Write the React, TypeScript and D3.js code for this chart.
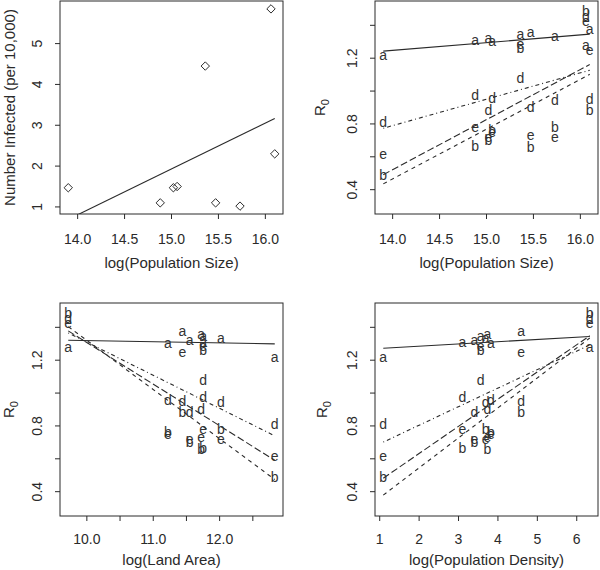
import React from 'react';
import * as d3 from 'd3';

// ---- data ----
const popSize = [13.9, 14.88, 15.02, 15.06, 15.36, 15.47, 15.73, 16.06, 16.1];
const landArea = [12.83, 11.75, 11.55, 11.22, 11.75, 11.72, 12.02, 9.72, 11.44];
const popDensity = [1.09, 3.1, 3.4, 3.82, 3.56, 3.73, 3.69, 6.33, 4.59];
const infected = [1.47, 1.1, 1.47, 1.5, 4.45, 1.1, 1.02, 5.85, 2.3];

const r0A = [1.21, 1.305, 1.315, 1.295, 1.337, 1.35, 1.325, 1.27, 1.367];
const r0B = [0.49, 0.665, 0.7, 0.765, 1.26, 0.66, 0.783, 1.49, 0.885];
const r0D = [0.81, 0.975, 0.883, 0.958, 1.078, 0.905, 0.948, 1.46, 0.95];
const r0E = [0.61, 0.775, 0.715, 0.745, 1.28, 0.726, 0.712, 1.42, 1.24];

const seriesLabels = ['a', 'b', 'd', 'e'];
const seriesValues = [r0A, r0B, r0D, r0E];
const seriesDash = ['', '4,4', '1,3,4,3', '7,3'];

const infectedTicks = [1, 2, 3, 4, 5];
const r0Ticks = [0.4, 0.6, 0.8, 1.0, 1.2, 1.4];
const r0TickLabels = ['0.4', '', '0.8', '', '1.2', ''];
const popTicks = [14.0, 14.5, 15.0, 15.5, 16.0];
const popTickLabels = ['14.0', '14.5', '15.0', '15.5', '16.0'];
const areaTicks = [10.0, 10.5, 11.0, 11.5, 12.0, 12.5];
const areaTickLabels = ['10.0', '', '11.0', '', '12.0', ''];
const densTicks = [1, 2, 3, 4, 5, 6];
const densTickLabels = ['1', '2', '3', '4', '5', '6'];
const r0Limits: [number, number] = [0.3, 1.5];

const FONT = '"Liberation Sans", Arial, Helvetica, sans-serif';
const INK = '#2a2a2a';

function pad([lo, hi]: [number, number]): [number, number] {
  const d = (hi - lo) * 0.04;
  return [lo - d, hi + d];
}

function ols(xs: number[], ys: number[]) {
  const mx = d3.mean(xs)!;
  const my = d3.mean(ys)!;
  let sxy = 0;
  let sxx = 0;
  xs.forEach((x, i) => {
    sxy += (x - mx) * (ys[i] - my);
    sxx += (x - mx) * (x - mx);
  });
  const slope = sxy / sxx;
  return (x: number) => my + slope * (x - mx);
}

type Box = { left: number; right: number; top: number; bottom: number };

type PanelProps = {
  id: string;
  box: Box;
  xs: number[];
  xTicks: number[];
  xTickLabels: string[];
  yDomain: [number, number];
  yTicks: number[];
  yTickLabels: string[];
  xTitle: string;
  yTitle: React.ReactNode;
  yTitleOffset: number;
  tickLabelOffset: number;
  titleOffset: number;
  render: (x: d3.ScaleLinear<number, number>, y: d3.ScaleLinear<number, number>) => React.ReactNode;
};

function Panel(p: PanelProps) {
  const { box } = p;
  const x = d3.scaleLinear().domain(pad(d3.extent(p.xs) as [number, number])).range([box.left, box.right]);
  const y = d3.scaleLinear().domain(p.yDomain).range([box.bottom, box.top]);
  const cy = (box.top + box.bottom) / 2;
  const cx = (box.left + box.right) / 2;
  return (
    <g>
      <clipPath id={`clip-${p.id}`}>
        <rect x={box.left} y={box.top} width={box.right - box.left} height={box.bottom - box.top} />
      </clipPath>
      <g clipPath={`url(#clip-${p.id})`}>{p.render(x, y)}</g>
      <rect
        x={box.left}
        y={box.top}
        width={box.right - box.left}
        height={box.bottom - box.top}
        fill="none"
        stroke={INK}
        strokeWidth={1}
      />
      {p.xTicks.map((t, i) => (
        <g key={`xt${i}`}>
          <line x1={x(t)} x2={x(t)} y1={box.bottom} y2={box.bottom + 5} stroke={INK} />
          {p.xTickLabels[i] && (
            <text x={x(t)} y={box.bottom + p.tickLabelOffset} dy="0.36em" textAnchor="middle" fontSize={14} fill={INK}>
              {p.xTickLabels[i]}
            </text>
          )}
        </g>
      ))}
      {p.yTicks.map((t, i) => (
        <g key={`yt${i}`}>
          <line x1={box.left - 5} x2={box.left} y1={y(t)} y2={y(t)} stroke={INK} />
          {p.yTickLabels[i] && (
            <text
              transform={`translate(${box.left - 23},${y(t)}) rotate(-90)`}
              dy="0.36em"
              textAnchor="middle"
              fontSize={14}
              fill={INK}
            >
              {p.yTickLabels[i]}
            </text>
          )}
        </g>
      ))}
      <text x={cx} y={box.bottom + p.titleOffset} dy="0.26em" textAnchor="middle" fontSize={15} fill={INK}>
        {p.xTitle}
      </text>
      <text
        transform={`translate(${box.left - p.yTitleOffset},${cy}) rotate(-90)`}
        dy="0.35em"
        textAnchor="middle"
        fontSize={15}
        fill={INK}
      >
        {p.yTitle}
      </text>
    </g>
  );
}

function r0Marks(xs: number[]) {
  return (x: d3.ScaleLinear<number, number>, y: d3.ScaleLinear<number, number>) => {
    const [x0, x1] = d3.extent(xs) as [number, number];
    return (
      <g>
        {seriesValues.map((vals, s) => {
          const f = ols(xs, vals);
          return (
            <line
              key={`l${s}`}
              x1={x(x0)}
              y1={y(f(x0))}
              x2={x(x1)}
              y2={y(f(x1))}
              stroke={INK}
              strokeWidth={1.1}
              strokeDasharray={seriesDash[s] || undefined}
            />
          );
        })}
        {seriesValues.map((vals, s) =>
          vals.map((v, i) => (
            <text
              key={`t${s}-${i}`}
              x={x(xs[i])}
              y={y(v)}
              dy={seriesLabels[s] === 'b' || seriesLabels[s] === 'd' ? '0.36em' : '0.26em'}
              textAnchor="middle"
              fontSize={14}
              fill="#333"
            >
              {seriesLabels[s]}
            </text>
          ))
        )}
      </g>
    );
  };
}

const R0Title = (
  <>
    R<tspan dy="0.3em" fontSize={11}>0</tspan>
  </>
);

export default function App() {
  const topRow = { top: 1, bottom: 214 };
  const botRow = { top: 303, bottom: 516 };
  const leftCol = { left: 60, right: 283 };
  const rightCol = { left: 375, right: 598 };
  const infDomain = pad(d3.extent(infected) as [number, number]);
  const r0Domain = pad(r0Limits);

  return (
    <svg
      width={600}
      height={570}
      style={{ position: 'absolute', left: 0, top: 0, background: '#fff' }}
      fontFamily={FONT}
    >
      <rect width={600} height={570} fill="#fff" />
      <Panel
        id="p1"
        box={{ ...leftCol, ...topRow }}
        xs={popSize}
        xTicks={popTicks}
        xTickLabels={popTickLabels}
        yDomain={infDomain}
        yTicks={infectedTicks}
        yTickLabels={infectedTicks.map(String)}
        xTitle="log(Population Size)"
        yTitle="Number Infected (per 10,000)"
        yTitleOffset={50}
        tickLabelOffset={25}
        titleOffset={50}
        render={(x, y) => {
          const f = ols(popSize, infected);
          const [x0, x1] = d3.extent(popSize) as [number, number];
          return (
            <g>
              <line x1={x(x0)} y1={y(f(x0))} x2={x(x1)} y2={y(f(x1))} stroke={INK} strokeWidth={1.1} />
              {popSize.map((px, i) => {
                const cx = x(px);
                const cy = y(infected[i]);
                const r = 4.2;
                return (
                  <path
                    key={i}
                    d={`M${cx},${cy - r}L${cx + r},${cy}L${cx},${cy + r}L${cx - r},${cy}Z`}
                    fill="none"
                    stroke={INK}
                    strokeWidth={1}
                  />
                );
              })}
            </g>
          );
        }}
      />
      <Panel
        id="p2"
        box={{ ...rightCol, ...topRow }}
        xs={popSize}
        xTicks={popTicks}
        xTickLabels={popTickLabels}
        yDomain={r0Domain}
        yTicks={r0Ticks}
        yTickLabels={r0TickLabels}
        xTitle="log(Population Size)"
        yTitle={R0Title}
        yTitleOffset={55}
        tickLabelOffset={25}
        titleOffset={50}
        render={r0Marks(popSize)}
      />
      <Panel
        id="p3"
        box={{ ...leftCol, ...botRow }}
        xs={landArea}
        xTicks={areaTicks}
        xTickLabels={areaTickLabels}
        yDomain={r0Domain}
        yTicks={r0Ticks}
        yTickLabels={r0TickLabels}
        xTitle="log(Land Area)"
        yTitle={R0Title}
        yTitleOffset={51}
        tickLabelOffset={23}
        titleOffset={45}
        render={r0Marks(landArea)}
      />
      <Panel
        id="p4"
        box={{ ...rightCol, ...botRow }}
        xs={popDensity}
        xTicks={densTicks}
        xTickLabels={densTickLabels}
        yDomain={r0Domain}
        yTicks={r0Ticks}
        yTickLabels={r0TickLabels}
        xTitle="log(Population Density)"
        yTitle={R0Title}
        yTitleOffset={53}
        tickLabelOffset={23}
        titleOffset={45}
        render={r0Marks(popDensity)}
      />
    </svg>
  );
}
